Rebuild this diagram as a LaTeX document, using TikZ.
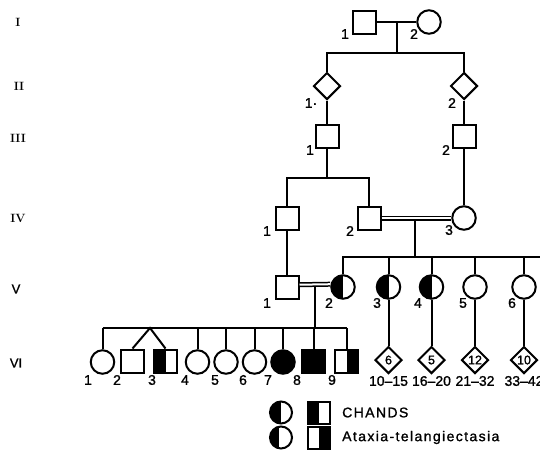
\documentclass[tikz,border=0pt]{standalone}
\usepackage{fontspec}
\setmainfont{Latin Modern Roman}
\setsansfont[FakeBold=1.2]{Liberation Sans}
\newfontfamily\legfont[LetterSpace=10,FakeBold=1.2]{Liberation Sans}
\usetikzlibrary{shapes.geometric}
\begin{document}
\begin{tikzpicture}[x=1pt,y=-1pt,
  ln/.style={line width=2pt},
  dbl/.style={line width=1.5pt,double distance=2pt},
  sq/.style={draw,line width=2pt,rectangle,minimum size=23pt,inner sep=0pt},
  ci/.style={draw,line width=2pt,circle,minimum size=23.5pt,inner sep=0pt},
  di/.style={draw,line width=2pt,diamond,minimum width=27pt,minimum height=27pt,inner sep=0pt,font=\sffamily\fontsize{12.5}{12.5}\selectfont},
  lf/.style={path picture={\fill (path picture bounding box.south west) rectangle (path picture bounding box.north);}},
  rf/.style={path picture={\fill (path picture bounding box.south) rectangle (path picture bounding box.north east);}},
  cres/.style={path picture={\fill (path picture bounding box.south west) rectangle ([xshift=-2.5pt]path picture bounding box.north);}},
  num/.style={font=\sffamily\fontsize{14}{14}\selectfont,inner sep=0pt},
  gen/.style={font=\bfseries\fontsize{12}{12}\selectfont,inner sep=0pt},
  gens/.style={font=\sffamily\fontsize{13}{13}\selectfont,inner sep=0pt},
  leg/.style={font=\legfont\fontsize{14}{14}\selectfont,inner sep=0pt,anchor=west},
]
\useasboundingbox (0,0) rectangle (540,451);

% generation labels
\node[gen] (gI) at (18,22) {I};
\node[gen] (gII) at (19,86) {II};
\node[gen] (gIII) at (18,138) {III};
\node[gen] (gIV) at (18,218) {IV};
\node[gens] (gV) at (16,289) {V};
\node[gens] (gVI) at (16,363) {VI};

% Generation I
\node[sq] (I1) at (364,22) {};
\node[ci] (I2) at (429,22) {};
\draw[ln] (I1) -- (I2);
\coordinate (m1) at (397,22);
\coordinate (s1l) at (327,53);
\coordinate (s1r) at (464,53);
\coordinate (s1) at (397,53);
\draw[ln] (m1) -- (s1);

% Generation II
\node[di] (II1) at (327,86) {};
\node[di] (II2) at (464,86) {};
\draw[ln] (II1.north) -- (s1l) -- (s1r) -- (II2.north);

% Generation III
\node[sq] (III1) at (327,136) {};
\node[sq] (III2) at (464,136) {};
\draw[ln] (II1.south) -- (III1.north);
\draw[ln] (II2.south) -- (III2.north);

% Generation IV
\node[sq] (IV1) at (287,218) {};
\node[sq] (IV2) at (369,218) {};
\node[ci] (IV3) at (464,218) {};
\coordinate (s3) at (327,178);
\coordinate (s3l) at (287,178);
\coordinate (s3r) at (369,178);
\draw[ln] (III1.south) -- (s3);
\draw[ln] (IV1.north) -- (s3l) -- (s3r) -- (IV2.north);
\draw[ln] (III2.south) -- (IV3.north);
\draw[dbl] (IV2) -- (IV3);
\coordinate (d4) at (415,220.5);
\coordinate (s4) at (415,257);
\draw[ln] (d4) -- (s4);

% Generation V
\node[sq] (V1) at (287,287.5) {};
\node[ci,lf] (V2) at (343,287) {};
\node[ci,lf] (V3) at (388.5,287) {};
\node[ci,lf] (V4) at (431.5,287) {};
\node[ci] (V5) at (475,287) {};
\node[ci] (V6) at (524,287) {};
\coordinate (s4r) at (545,257);
\draw[ln] (V2.north) -- (V2.north |- s4) -- (s4r);
\foreach \n in {V3,V4,V5,V6} \draw[ln] (\n.north) -- (\n.north |- s4);
\draw[ln] (IV1.south) -- (V1.north);
\draw[dbl] ([yshift=2.8pt]V1.east) -- ([yshift=2.8pt]V2.west);
\coordinate (d5) at (315,286.1);
\coordinate (s5) at (315,328);
\draw[ln] (d5) -- (s5);

% diamonds below V-3..V-6
\node[di] (D3) at (388.5,360) {6};
\node[di] (D4) at (431.5,360) {5};
\node[di] (D5) at (475,360) {12};
\node[di] (D6) at (524,360) {10};
\foreach \a/\b in {V3/D3,V4/D4,V5/D5,V6/D6} \draw[ln] (\a.south) -- (\b.north);
\node[num] (r3) at (388.5,381) {10–15};
\node[num] (r4) at (431.5,381) {16–20};
\node[num] (r5) at (475,381) {21–32};
\node[num] (r6) at (524,381) {33–42};

% Generation VI
\node[ci] (VI1) at (102.5,362) {};
\node[sq] (VI2) at (132.5,361) {};
\node[sq,lf] (VI3) at (165.5,361) {};
\node[ci] (VI4) at (197.5,362) {};
\node[ci] (VI5) at (226,362) {};
\node[ci] (VI6) at (254.5,362) {};
\node[ci,fill=black] (VI7) at (283,362) {};
\node[sq,fill=black] (VI8) at (313.5,361) {};
\node[sq,rf] (VI9) at (346.5,361) {};
\coordinate (sib) at (102.5,328);
\coordinate (sibr) at (346.5,328);
\coordinate (tw) at (150,328);
\draw[ln] (sib) -- (sibr);
\foreach \n in {VI1,VI4,VI5,VI6,VI7,VI8,VI9} \draw[ln] (\n.north) -- (\n.north |- sib);
\draw[ln] (VI2.north) -- (tw) -- (VI3.north);

% individual numbers
\node[num] at (345,34) {1};
\node[num] at (414,34) {2};
\node[num] at (311,103) {1·};
\node[num] at (452,103) {2};
\node[num] at (310,150) {1};
\node[num] at (446,150) {2};
\node[num] at (267,231) {1};
\node[num] at (350,231) {2};
\node[num] at (449,230) {3};
\node[num] at (267,303) {1};
\node[num] at (329,303) {2};
\node[num] at (377,303) {3};
\node[num] at (418,303) {4};
\node[num] at (463,303) {5};
\node[num] at (512,303) {6};
\node[num] at (88,380) {1};
\node[num] at (117,380) {2};
\node[num] at (152,380) {3};
\node[num] at (185,380) {4};
\node[num] at (215,380) {5};
\node[num] at (243,380) {6};
\node[num] at (268,380) {7};
\node[num] at (297,380) {8};
\node[num] at (332,380) {9};

% legend
\node[ci,lf,minimum size=22pt] (L1c) at (281,412.5) {};
\node[sq,lf,minimum size=22pt] (L1s) at (319,412.5) {};
\node[leg] (L1t) at (342,412.5) {CHANDS};
\node[ci,cres,minimum size=22pt] (L2c) at (281,437.5) {};
\node[sq,rf,minimum size=22pt] (L2s) at (319,437.5) {};
\node[leg] (L2t) at (342,437.5) {Ataxia-telangiectasia};
\end{tikzpicture}
\end{document}
